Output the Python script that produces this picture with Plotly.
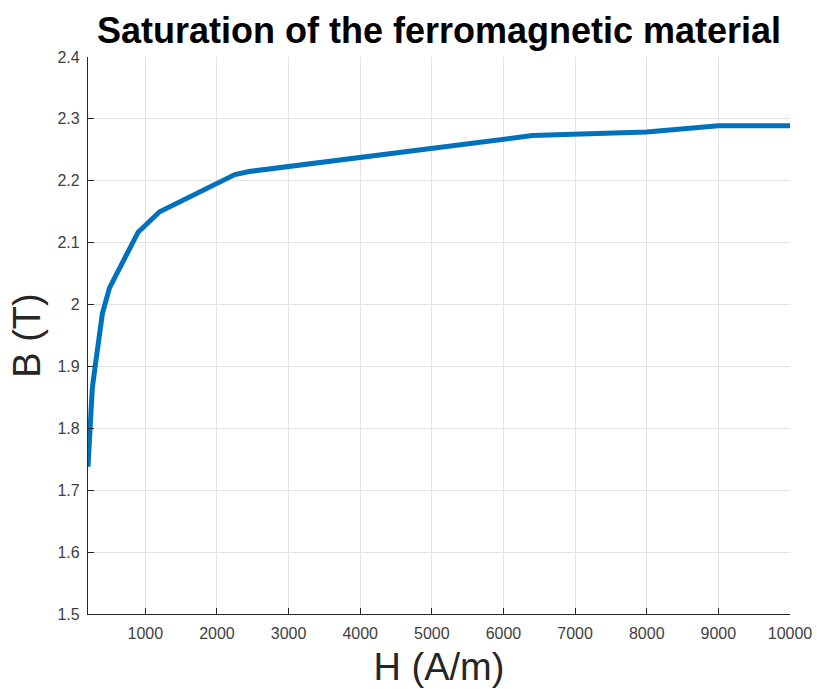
import plotly.graph_objects as go

# B-H saturation curve of the ferromagnetic material
H_field = [200, 260, 300, 400, 500, 900, 1200, 2250, 2450, 6400, 8000, 9000, 10000]
B_flux = [1.738, 1.865, 1.900, 1.985, 2.027, 2.117, 2.150, 2.210, 2.215, 2.273, 2.279, 2.289, 2.289]

x_ticks = [1000, 2000, 3000, 4000, 5000, 6000, 7000, 8000, 9000, 10000]
y_ticks = [1.5, 1.6, 1.7, 1.8, 1.9, 2.0, 2.1, 2.2, 2.3, 2.4]
y_tick_text = ["1.5", "1.6", "1.7", "1.8", "1.9", "2", "2.1", "2.2", "2.3", "2.4"]

AXIS = "#262626"
GRID = "#e3e3e3"
FONT = "Liberation Sans, Arial, sans-serif"

fig = go.Figure(
    go.Scatter(
        x=H_field,
        y=B_flux,
        mode="lines",
        line=dict(color="#0072BD", width=5),
        hoverinfo="x+y",
    )
)

fig.update_layout(
    width=817,
    height=689,
    margin=dict(l=88, r=27, t=57, b=75),
    paper_bgcolor="white",
    plot_bgcolor="white",
    showlegend=False,
    font=dict(family=FONT, color=AXIS),
    title=dict(
        text="<b>Saturation of the ferromagnetic material</b>",
        font=dict(family=FONT, size=36, color="black"),
        x=0.5,
        xref="paper",
        xanchor="center",
        y=1 - 30 / 689,
        yref="container",
        yanchor="middle",
    ),
)

axis_style = dict(
    ticks="inside",
    ticklen=6,
    tickwidth=1,
    tickcolor=AXIS,
    showline=True,
    linecolor=AXIS,
    linewidth=1.2,
    mirror=False,
    showgrid=True,
    gridcolor=GRID,
    gridwidth=1,
    zeroline=False,
    automargin=False,
    tickfont=dict(family=FONT, size=16, color="#404040"),
)

fig.update_xaxes(
    range=[200, 10000],
    tickvals=x_ticks,
    ticktext=[str(v) for v in x_ticks],
    ticklabelstandoff=5,
    title=dict(text="H (A/m)", font=dict(family=FONT, size=38, color=AXIS), standoff=12),
    **axis_style,
)

fig.update_yaxes(
    range=[1.5, 2.4],
    tickvals=y_ticks,
    ticktext=y_tick_text,
    ticklabelstandoff=4,
    title=dict(text="B (T)", font=dict(family=FONT, size=38, color=AXIS), standoff=5),
    **axis_style,
)

fig.write_html("out.html")
